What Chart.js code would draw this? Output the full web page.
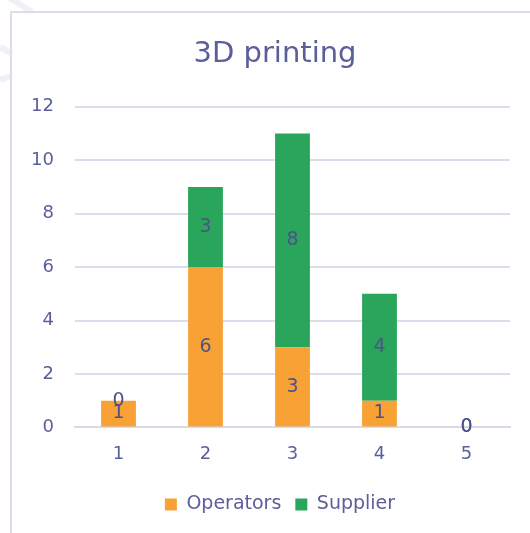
<!DOCTYPE html>
<html><head><meta charset="utf-8">
<script src="https://cdn.jsdelivr.net/npm/chart.js@4"></script>
<style>html,body{margin:0;padding:0;background:#fff}#wrap{width:530px;height:533px}</style>
</head><body><div id="wrap"><canvas id="c" width="530" height="533"></canvas></div>
<script>
const categories = ['1','2','3','4','5'];
const operators = [1,6,3,1,0];
const supplier = [0,3,8,4,0];
const seriesNames = ['Operators','Supplier'];
const colors = ['#F8A235','#2AA55C'];
const textColor = '#5A5E9A';
const FONT = '"DejaVu Sans", sans-serif';

const frame = {
  id:'frame',
  beforeDraw(chart){
    const ctx = chart.ctx;
    ctx.save();
    ctx.fillStyle='#fff';ctx.fillRect(0,0,chart.width,chart.height);
    ctx.strokeStyle='#F1F1F5';ctx.lineWidth=6;ctx.lineCap='butt';
    ctx.beginPath();ctx.moveTo(8,-3);ctx.lineTo(32,12);ctx.stroke();
    ctx.beginPath();ctx.moveTo(0,47);ctx.lineTo(11,53);ctx.stroke();
    ctx.beginPath();ctx.moveTo(0,80);ctx.lineTo(11,76);ctx.stroke();
    ctx.strokeStyle='#DCDDEA';ctx.lineWidth=2;
    ctx.beginPath();ctx.moveTo(11,chart.height);ctx.lineTo(11,12);ctx.lineTo(chart.width,12);ctx.stroke();
    ctx.restore();
  }
};
const shiftBlocks = {
  id:'shiftBlocks',
  afterLayout(chart){
    const t = chart.titleBlock;
    if (t){ t.left += 10; t.right += 10; }
    const l = chart.legend;
    if (l){ l.left += 15; l.right += 15; }
  }
};
const labels = {
  id:'segLabels',
  afterDatasetsDraw(chart){
    const ctx = chart.ctx;
    ctx.save();
    ctx.font = '19px '+FONT;
    ctx.fillStyle = '#4E5288';
    ctx.textAlign='center';ctx.textBaseline='middle';
    chart.data.datasets.forEach((ds,i)=>{
      chart.getDatasetMeta(i).data.forEach((el,j)=>{
        const y=(el.y+el.base)/2;
        ctx.fillText(String(ds.data[j]), el.x, y);
      });
    });
    ctx.restore();
  }
};
new Chart(document.getElementById('c'),{
  type:'bar',
  data:{labels:categories,datasets:[
    {label:seriesNames[0],data:operators,backgroundColor:colors[0],barPercentage:0.8,categoryPercentage:0.5},
    {label:seriesNames[1],data:supplier,backgroundColor:colors[1],barPercentage:0.8,categoryPercentage:0.5}
  ]},
  options:{
    responsive:false,animation:false,
    layout:{padding:{top:18,right:20,left:20,bottom:9}},
    plugins:{
      title:{display:true,text:'3D printing',color:textColor,font:{family:FONT,size:29,weight:'normal'},padding:{top:19,bottom:35}},
      legend:{position:'bottom',labels:{color:textColor,font:{family:FONT,size:19},boxWidth:12,boxHeight:12,padding:14}},
      tooltip:{enabled:false}
    },
    scales:{
      x:{stacked:true,grid:{display:false,drawTicks:false},border:{color:'#D9DAE7',width:2},
         ticks:{color:textColor,font:{family:FONT,size:18},padding:16}},
      y:{stacked:true,min:0,max:12,afterFit(s){s.width=55;},
         grid:{color:'#DCDDEA',lineWidth:2,drawTicks:false},border:{display:false},
         ticks:{stepSize:2,color:textColor,font:{family:FONT,size:18},padding:21}}
    }
  },
  plugins:[frame,shiftBlocks,labels]
});
</script></body></html>
